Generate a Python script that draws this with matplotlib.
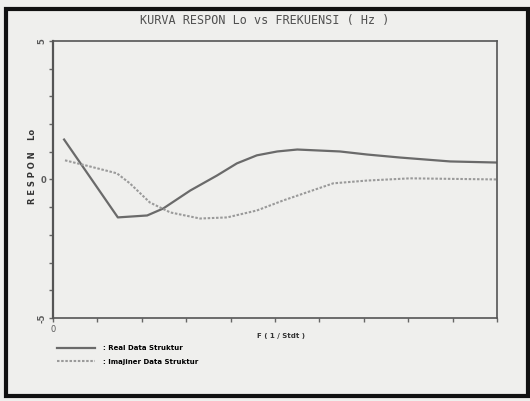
import numpy as np
import matplotlib.pyplot as plt
from matplotlib.patches import Rectangle

# ----------------------------
# data
# ----------------------------
f_real = [0.25, 1.46, 2.12, 2.48, 3.09, 3.69, 4.14, 4.59, 5.05, 5.50, 6.46, 7.07, 7.82, 8.94, 10.0]
lo_real = [1.44, -1.37, -1.30, -1.05, -0.40, 0.14, 0.58, 0.87, 1.01, 1.08, 1.01, 0.90, 0.79, 0.65, 0.61]

f_imag = [0.27, 0.83, 1.44, 1.73, 2.18, 2.64, 3.31, 3.92, 4.59, 5.18, 6.31, 7.07, 8.04, 10.0]
lo_imag = [0.69, 0.47, 0.22, -0.14, -0.83, -1.19, -1.41, -1.37, -1.12, -0.76, -0.14, -0.04, 0.04, 0.0]

x_ticks = np.arange(0, 11, 1)
y_ticks = np.arange(-5, 6, 1)

title = "KURVA RESPON Lo vs FREKUENSI ( Hz )"
ylabel = "R E S P O N    Lo"
xlabel = "F ( 1 / Stdt )"
leg_labels = [": Real Data Struktur", ": Imajiner Data Struktur"]

bg = "#efefed"
ink = "#5a5a5a"

fig = plt.figure(figsize=(5.3, 4.01), dpi=100, facecolor=bg)
ax = fig.add_axes([0.1, 0.207, 0.838, 0.691], facecolor=bg)

# outer frame of the scan
fig.patches.append(Rectangle((0.012, 0.012), 0.985, 0.965, transform=fig.transFigure,
                             fill=False, edgecolor="#111111", linewidth=3))

l1, = ax.plot(f_real, lo_real, color="#6a6a6a", lw=1.6)
l2, = ax.plot(f_imag, lo_imag, color="#9a9a9a", lw=1.5, ls=(0, (1.2, 0.8)))

ax.set_xlim(0, 10)
ax.set_ylim(-5, 5)
ax.set_xticks(x_ticks)
ax.set_xticklabels(["0"] + [""] * (len(x_ticks) - 1), fontsize=6, color=ink)
ax.set_yticks(y_ticks)
ylab = ["" for _ in y_ticks]
ylab[0], ylab[5], ylab[-1] = "-5", "0", "5"
ax.set_yticklabels(ylab, fontsize=6, color=ink, fontweight="bold")
for t in ax.get_yticklabels():
    if t.get_text() in ("5", "-5"):
        t.set_rotation(90)
        t.set_va("center")
ax.set_xticks([10], minor=True)
ax.tick_params(axis="x", which="minor", length=15, width=1.3, color="#444444")
ax.tick_params(axis="both", which="major", length=3, width=1, color="#666666", pad=2)

for s in ax.spines.values():
    s.set_color("#555555")
    s.set_linewidth(1.2)
ax.spines["left"].set_linewidth(1.6)

fig.text(0.5, 0.948, title, ha="center", va="center", fontsize=8.5, color="#505050",
         family="DejaVu Sans Mono")
fig.text(0.062, 0.586, ylabel, ha="center", va="center", rotation=90, fontsize=6,
         fontweight="bold", color="#333333")
fig.text(0.53, 0.163, xlabel, ha="center", va="center", fontsize=5,
         fontweight="bold", color="#333333")

# legend under the axes
fig.legend([l1, l2], leg_labels, loc="upper left", bbox_to_anchor=(0.095, 0.155),
           frameon=False, handlelength=5.5, labelspacing=1.1,
           handletextpad=1.2, prop={"weight": "bold", "size": 5})

plt.savefig("out.png", dpi=100, facecolor=bg)
plt.close()
